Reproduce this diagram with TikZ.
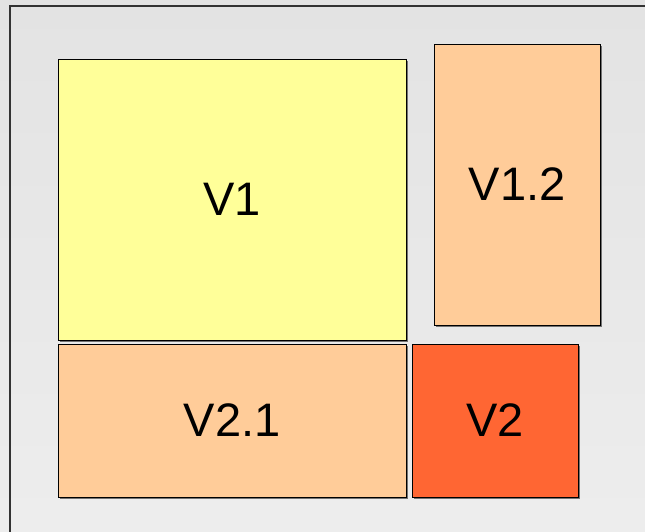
\documentclass[tikz,border=0pt]{standalone}
\usepackage{fontspec}
\setmainfont{Liberation Sans}
\usetikzlibrary{shadows}
\begin{document}
\begin{tikzpicture}[x=1pt,y=-1pt,
  tile/.style={draw=black, line width=0.8pt, rectangle, inner sep=0pt,
    font=\fontsize{47}{52}\selectfont,
    drop shadow={shadow xshift=1.5pt, shadow yshift=-1.5pt, fill=black!55, opacity=1}}]
\definecolor{paleyellow}{HTML}{FFFF99}
\definecolor{peach}{HTML}{FFCC99}
\definecolor{tomato}{HTML}{FF6633}
\useasboundingbox (0,0) rectangle (645,531);
% background with soft vertical gradient
\shade[top color=black!11, bottom color=black!7] (0,0) rectangle (645,531);
% outer frame
\draw[line width=1.3pt, black!80] (10,540) -- (10,6) -- (655,6);
% tiles
\node[tile, fill=paleyellow, minimum width=348pt, minimum height=281pt] (v1) at (232,199.5) {V1};
\node[tile, fill=peach, minimum width=166pt, minimum height=281pt] (v12) at (517,184.5) {V1.2};
\node[tile, fill=peach, minimum width=348pt, minimum height=153pt] (v21) at (232,420.5) {V2.1};
\node[tile, fill=tomato, minimum width=166pt, minimum height=153pt] (v2) at (495,420.5) {V2};
\end{tikzpicture}
\end{document}
